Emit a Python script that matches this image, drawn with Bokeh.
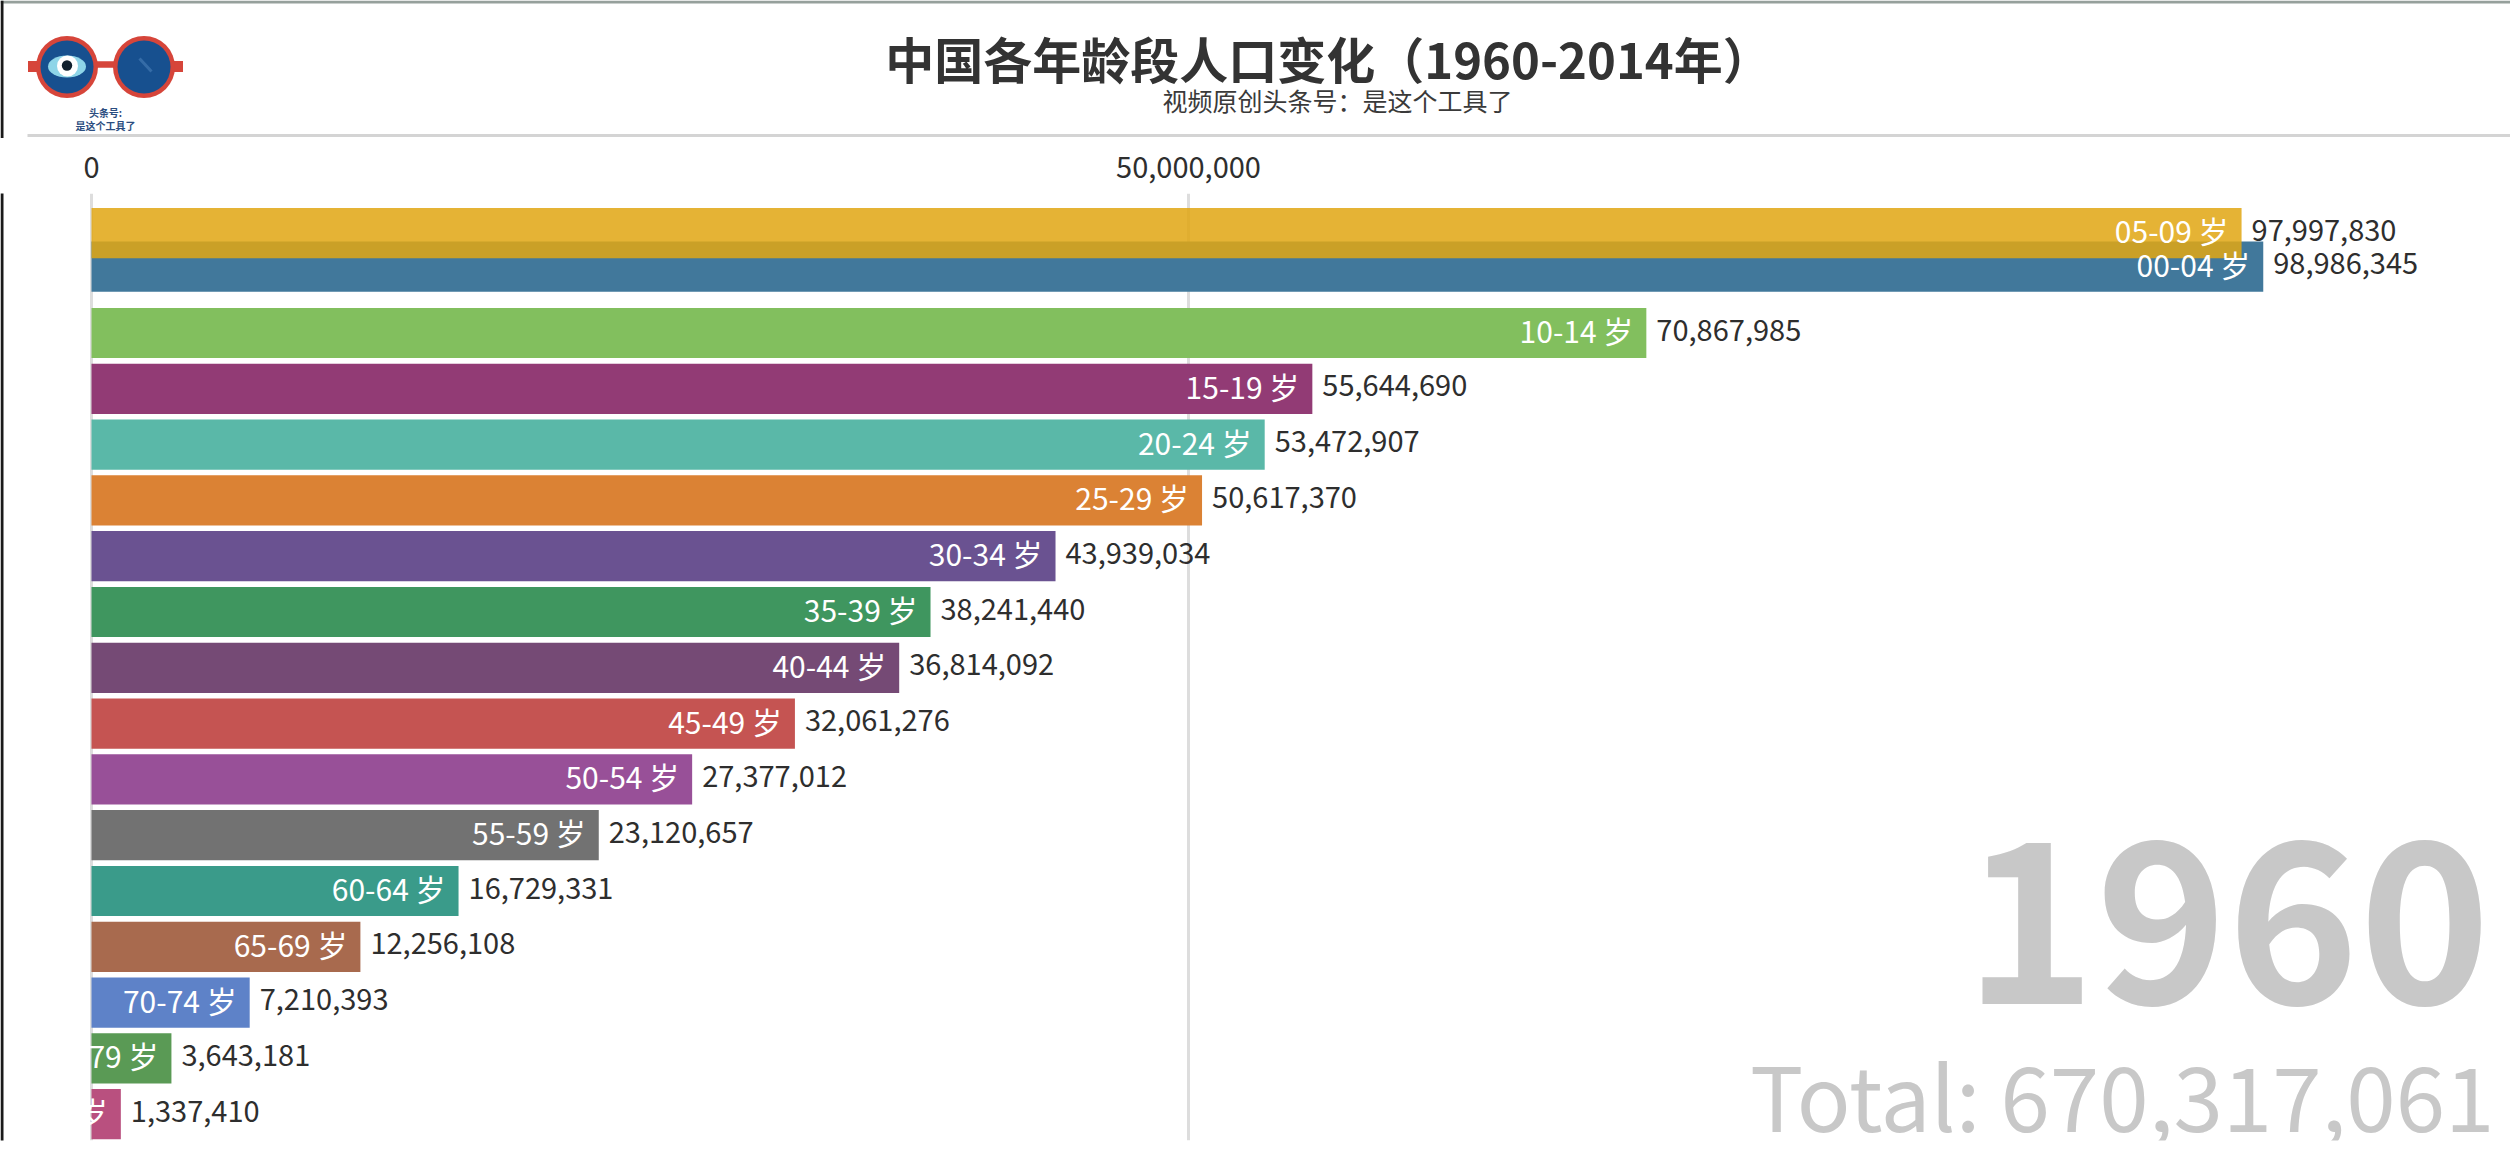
from bokeh.plotting import figure
from bokeh.layouts import column
from bokeh.models import Range1d, FixedTicker, NumeralTickFormatter, Label, ColumnDataSource, BoxAnnotation
from bokeh.core.properties import value
from bokeh.embed import file_html
from bokeh.resources import INLINE

# ---------------- data ----------------
age_groups = ["00-04", "05-09", "10-14", "15-19", "20-24", "25-29", "30-34", "35-39",
              "40-44", "45-49", "50-54", "55-59", "60-64", "65-69", "70-74", "75-79", "80+"]
population = [98986345, 97997830, 70867985, 55644690, 53472907, 50617370, 43939034, 38241440,
              36814092, 32061276, 27377012, 23120657, 16729331, 12256108, 7210393, 3643181, 1337410]
# row of each bar in this animation frame (00-04 and 05-09 are swapping places)
row_position = [0.81, 0.21, 2, 3, 4, 5, 6, 7, 8, 9, 10, 11, 12, 13, 14, 15, 16]
bar_colors = ["#41789B", "#E1A714", "#82BF5E", "#923B75", "#5AB8A8", "#DB8234", "#6A5291", "#3F965F",
              "#754A75", "#C55452", "#985098", "#727272", "#3A9B8A", "#A86A4E", "#5E82C8", "#5A9A55", "#B9507F"]
bar_alpha = [1, 0.86, 1, 1, 1, 1, 1, 1, 1, 1, 1, 1, 1, 1, 1, 1, 1]
tick_values = [0, 50_000_000]
year = "1960"
title_text = "中国各年龄段人口变化（1960-2014年）"
subtitle_text = "视频原创头条号：是这个工具了"
logo_lines = ["头条号:", "是这个工具了"]

FONT = "Noto Sans CJK SC"
W = 2510
HEADER_H = 138
MAIN_H = 1164 - HEADER_H

# ---------------- header ----------------
h = figure(width=W, height=HEADER_H, x_range=Range1d(0, W), y_range=Range1d(HEADER_H, 0),
           output_backend="svg", toolbar_location=None, x_axis_type=None, y_axis_type=None,
           min_border=0, outline_line_color=None, background_fill_color="white")
h.xgrid.visible = False
h.ygrid.visible = False

# frame edges of the captured video
h.quad(left=[0], right=[W], top=[0], bottom=[3], fill_color="#96A09C", line_color=None)
h.quad(left=[0], right=[3], top=[0], bottom=[HEADER_H], fill_color="#1A1A1A", line_color=None)

red = "#D6453A"
lens = "#17508F"
# temples and bridge
h.rect(x=[32, 178], y=[66, 66], width=[9, 9], height=[11, 11], fill_color=red, line_color=None)
h.rect(x=[105, 105], y=[64, 64], width=[20, 20], height=[6, 6], fill_color=red, line_color=None)
# lenses
h.circle(x=[66.5, 143.5], y=[66.5, 66.5], radius=31, fill_color=red, line_color=None)
h.circle(x=[66.5, 143.5], y=[66.5, 66.5], radius=26.5, fill_color=lens, line_color=None)
# eye
h.ellipse(x=[66.5], y=[66], width=[38], height=[22], fill_color="#8ED5E8", line_color=None)
h.circle(x=[67], y=[65.5], radius=10.5, fill_color="white", line_color=None)
h.circle(x=[66.5], y=[65], radius=5.2, fill_color="#10202E", line_color=None)
h.segment(x0=[139], y0=[58], x1=[151], y1=[71], line_color="#4A7FB8", line_width=3, line_alpha=0.6)
# logo caption
h.text(x=[105, 105], y=[112, 125], text=logo_lines, text_align="center", text_baseline="middle",
       text_font=value(FONT), text_font_size=value("10px"), text_font_style="bold", text_color="#2B4D80")
# title / subtitle
h.text(x=[1328], y=[57], text=[title_text], text_align="center", text_baseline="middle",
       text_font=value(FONT), text_font_size=value("49px"), text_font_style="bold", text_color="#333333")
h.text(x=[1337], y=[99], text=[subtitle_text], text_align="center", text_baseline="middle",
       text_font=value(FONT), text_font_size=value("25px"), text_color="#3A3A3A")
# separator
h.segment(x0=[27], y0=[135], x1=[W], y1=[135], line_color="#D4D4D4", line_width=3)

# ---------------- main chart ----------------
TOP, BOTTOM = 55, 24
ZERO_PX = 91
frame_h = MAIN_H - TOP - BOTTOM
px_per_unit = 1097 / 50_000_000
row_px = 55.8

p = figure(width=W, height=MAIN_H,
           x_range=Range1d(-ZERO_PX / px_per_unit, (W - ZERO_PX) / px_per_unit),
           y_range=Range1d(-0.5 + frame_h / row_px, -0.5),
           x_axis_location="above", y_axis_type=None,
           output_backend="svg", toolbar_location=None,
           min_border_left=0, min_border_right=0, min_border_top=TOP, min_border_bottom=BOTTOM,
           outline_line_color=None, background_fill_color="white")

src = ColumnDataSource(dict(
    group=age_groups, value=population, pos=row_position, color=bar_colors, alpha=bar_alpha,
    inner=[g + " 岁" for g in age_groups],
    vlabel=[f"{v:,}" for v in population],
))

p.hbar(y="pos", left=0, right="value", height=0.9, fill_color="color", fill_alpha="alpha",
       line_color=None, source=src)
p.text(x="value", y="pos", text="inner", x_offset=-13, y_offset=-3, text_align="right", text_baseline="middle",
       text_font=value(FONT), text_font_size=value("30px"), text_color="white", source=src)
p.text(x="value", y="pos", text="vlabel", x_offset=10, y_offset=-3, text_align="left", text_baseline="middle",
       text_font=value(FONT), text_font_size=value("29px"), text_color="#2E2E2E", source=src)

ax = p.xaxis[0]
ax.ticker = FixedTicker(ticks=tick_values, minor_ticks=[])
ax.formatter = NumeralTickFormatter(format="0,0")
ax.axis_line_color = None
ax.major_tick_line_color = None
ax.minor_tick_line_color = None
ax.major_label_standoff = 10
ax.major_label_text_font = FONT
ax.major_label_text_font_size = "29px"
ax.major_label_text_color = "#2E2E2E"
p.xgrid.grid_line_color = "#DDDDDD"
p.xgrid.grid_line_width = 3

# left edge of the captured video (runs over the whole height of the figure)
p.add_layout(BoxAnnotation(left=0, right=3, bottom=-BOTTOM, top=frame_h + TOP,
                           left_units="screen", right_units="screen",
                           bottom_units="screen", top_units="screen",
                           fill_color="#1A1A1A", fill_alpha=1, line_color=None))

total = sum(population)
p.add_layout(Label(x=2490, y=219, x_units="screen", y_units="screen", text=year,
                   text_align="right", text_baseline="alphabetic", text_font=FONT,
                   text_font_size="223px", text_font_style="bold", text_color="#C8C8C8"))
p.add_layout(Label(x=2494, y=47, x_units="screen", y_units="screen", text=f"Total: {total:,}",
                   text_align="right", text_baseline="alphabetic", text_font=FONT,
                   text_font_size="89px", text_color="#C8C8C8"))

layout = column(h, p, spacing=0)
open("out.html", "w").write(file_html(layout, INLINE))
